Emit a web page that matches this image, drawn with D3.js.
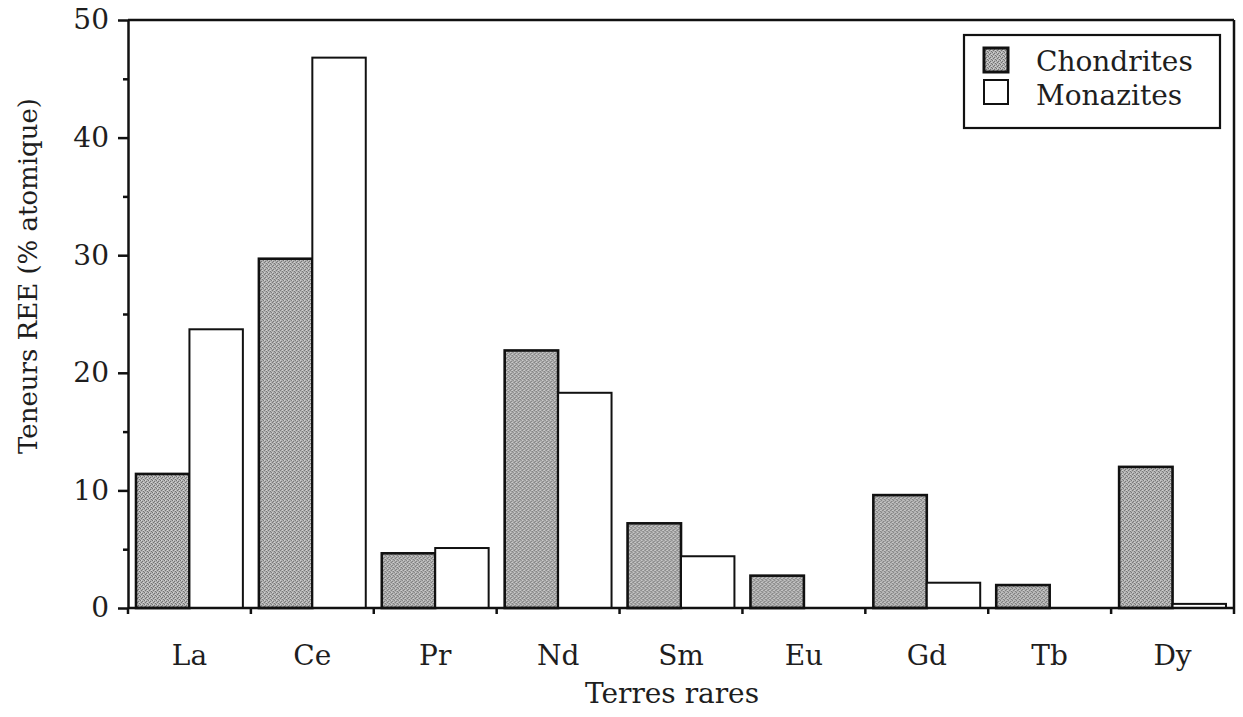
<!DOCTYPE html>
<html>
<head>
<meta charset="utf-8">
<script src="https://cdn.jsdelivr.net/npm/d3@7"></script>
<style>
  html, body { margin: 0; padding: 0; background: #fff; }
  svg { display: block; }
  text { font-family: "DejaVu Serif", "Liberation Serif", serif; fill: #1e1e1e; }
</style>
</head>
<body>
<svg id="chart" width="1243" height="717"></svg>
<script>
// Rare earth elements, atomic percent
const elements = ["La", "Ce", "Pr", "Nd", "Sm", "Eu", "Gd", "Tb", "Dy"];
const chondrites = [11.4, 29.7, 4.65, 21.9, 7.2, 2.75, 9.6, 1.95, 12.0];
const monazites  = [23.7, 46.8, 5.1, 18.3, 4.4, 0, 2.15, 0, 0.35];
const seriesNames = ["Chondrites", "Monazites"];
const yMajorTicks = [0, 10, 20, 30, 40, 50];
const yMinorTicks = [5, 15, 25, 35, 45];

const svg = d3.select("#chart");
const plot = { left: 128, right: 1234, top: 20, bottom: 608 };
const FONT = 28;

// Stippled grey fill used for the chondrite bars
const defs = svg.append("defs");
const pat = defs.append("pattern")
  .attr("id", "stipple").attr("patternUnits", "userSpaceOnUse")
  .attr("width", 4).attr("height", 4);
pat.append("rect").attr("width", 4).attr("height", 4).attr("fill", "#b2b2b2");
[[0,0],[2,1],[1,2],[3,3]].forEach(([px, py]) =>
  pat.append("rect").attr("x", px).attr("y", py).attr("width", 1).attr("height", 1).attr("fill", "#727272"));
[[1,0],[3,2]].forEach(([px, py]) =>
  pat.append("rect").attr("x", px).attr("y", py).attr("width", 1).attr("height", 1).attr("fill", "#d4d4d4"));

const x = d3.scaleBand().domain(elements).range([plot.left, plot.right]).paddingInner(0).paddingOuter(0);
const inner = d3.scaleBand().domain(seriesNames).range([0, x.bandwidth()]).paddingInner(0).paddingOuter(0.15);
const y = d3.scaleLinear().domain([0, 50]).range([plot.bottom, plot.top]);

const data = elements.map((el, i) => ({ el, values: [
  { key: "Chondrites", v: chondrites[i] },
  { key: "Monazites", v: monazites[i] }
]}));

// Bars
const groups = svg.append("g").selectAll("g").data(data).join("g")
  .attr("transform", d => `translate(${x(d.el)},0)`);
groups.selectAll("rect").data(d => d.values.filter(p => p.v > 0)).join("rect")
  .attr("x", p => inner(p.key))
  .attr("width", inner.bandwidth())
  .attr("y", p => y(p.v))
  .attr("height", p => y(0) - y(p.v))
  .attr("fill", p => p.key === "Chondrites" ? "url(#stipple)" : "#fff")
  .attr("stroke", "#111")
  .attr("stroke-width", p => p.key === "Chondrites" ? 2.6 : 2);

// Frame: top and right lines
svg.append("line").attr("x1", plot.left).attr("x2", plot.right)
  .attr("y1", plot.top).attr("y2", plot.top).attr("stroke", "#111").attr("stroke-width", 2.5);
svg.append("line").attr("x1", plot.right).attr("x2", plot.right)
  .attr("y1", plot.top).attr("y2", plot.bottom).attr("stroke", "#111").attr("stroke-width", 2.5);

// Y axis with major and minor ticks
const yAxis = svg.append("g").attr("transform", `translate(${plot.left},0)`)
  .call(d3.axisLeft(y).tickValues(yMajorTicks).tickSize(10).tickPadding(9).tickSizeOuter(0));
svg.append("g").attr("transform", `translate(${plot.left},0)`)
  .call(d3.axisLeft(y).tickValues(yMinorTicks).tickSize(5).tickFormat("").tickSizeOuter(0))
  .select(".domain").remove();

// X axis: ticks on the band boundaries, labels at band centres
const bounds = elements.map(e => x(e)).concat([plot.right]);
const xAxis = svg.append("g").attr("transform", `translate(0,${plot.bottom})`);
xAxis.append("line").attr("x1", plot.left).attr("x2", plot.right)
  .attr("stroke", "#111").attr("stroke-width", 2.5);
xAxis.selectAll("line.tick").data(bounds).join("line").attr("class", "tick")
  .attr("x1", d => d).attr("x2", d => d).attr("y1", 0).attr("y2", 6)
  .attr("stroke", "#111").attr("stroke-width", 2.5);
xAxis.selectAll("text").data(elements).join("text")
  .attr("x", d => x(d) + x.bandwidth() / 2).attr("y", 57)
  .attr("text-anchor", "middle").attr("font-size", FONT).text(d => d);

svg.selectAll(".domain").attr("stroke", "#111").attr("stroke-width", 2.5);
svg.selectAll(".tick line").attr("stroke", "#111").attr("stroke-width", 2.5);
yAxis.selectAll(".tick text").attr("font-size", FONT)
  .attr("font-family", "DejaVu Serif").attr("fill", "#1e1e1e");

// Axis titles
svg.append("text").attr("x", 672).attr("y", 703).attr("text-anchor", "middle")
  .attr("font-size", FONT).text("Terres rares");
svg.append("text").attr("transform", "translate(37,276) rotate(-90)")
  .attr("text-anchor", "middle").attr("font-size", 26).text("Teneurs REE (% atomique)");

// Legend
const legend = svg.append("g");
legend.append("rect").attr("x", 964).attr("y", 35).attr("width", 256).attr("height", 93)
  .attr("fill", "#fff").attr("stroke", "#111").attr("stroke-width", 2.2);
seriesNames.forEach((name, i) => {
  legend.append("rect").attr("x", 984).attr("y", 48 + i * 32).attr("width", 24).attr("height", 24)
    .attr("fill", i === 0 ? "url(#stipple)" : "#fff")
    .attr("stroke", "#111").attr("stroke-width", i === 0 ? 3 : 2);
  legend.append("text").attr("x", 1036).attr("y", 71 + i * 34)
    .attr("font-size", FONT).text(name);
});
</script>
</body>
</html>
